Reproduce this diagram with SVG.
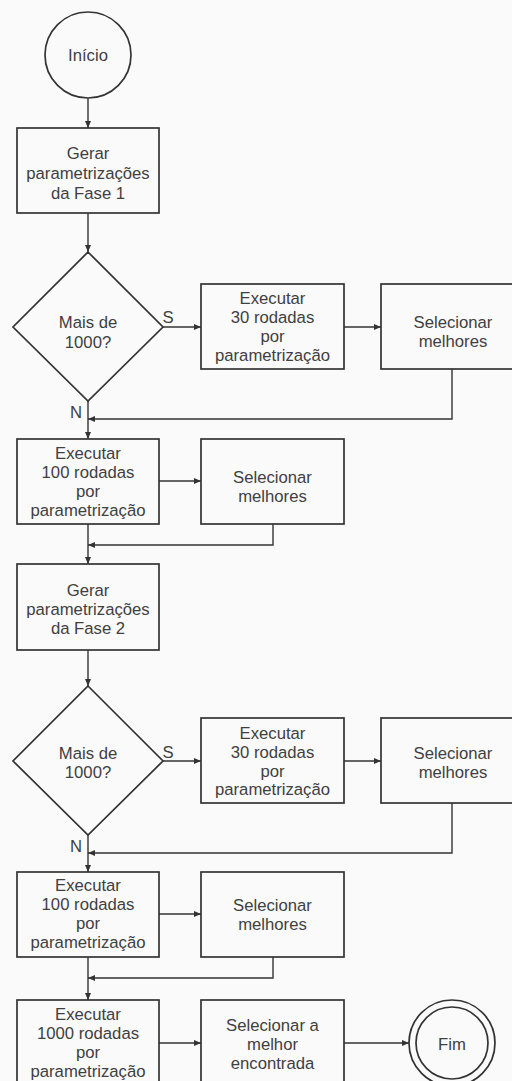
<svg xmlns="http://www.w3.org/2000/svg" width="512" height="1081" viewBox="0 0 512 1081">
  <defs>
    <marker id="arrow" markerUnits="userSpaceOnUse" markerWidth="7" markerHeight="6" refX="7" refY="3" orient="auto">
      <path d="M0,0 L7,3 L0,6 z" fill="#333"/>
    </marker>
    <style>
      .shape { fill: #fafafa; stroke: #333; stroke-width: 1.7; }
      .edge { fill: none; stroke: #333; stroke-width: 1.4; marker-end: url(#arrow); }
      text { font-family: "Liberation Sans", Arial, sans-serif; font-size: 16.7px; fill: #404040; text-anchor: middle; }
    </style>
  </defs>
  <rect x="0" y="0" width="512" height="1081" fill="#fafafa"/>

  <!-- connectors -->
  <g id="connectors">
    <path class="edge" d="M88,98 V128"/>
    <path class="edge" d="M88,213 V252"/>
    <path class="edge" d="M163,327 H201"/>
    <path class="edge" d="M344,327 H381"/>
    <path class="edge" d="M452,369 V419 H88"/>
    <path class="edge" d="M88,401 V439"/>
    <path class="edge" d="M159,481 H201"/>
    <path class="edge" d="M273,524 V545 H88"/>
    <path class="edge" d="M88,524 V564"/>
    <path class="edge" d="M88,650 V686"/>
    <path class="edge" d="M163,761 H201"/>
    <path class="edge" d="M344,761 H381"/>
    <path class="edge" d="M452,803 V853 H88"/>
    <path class="edge" d="M88,835 V872"/>
    <path class="edge" d="M159,914 H201"/>
    <path class="edge" d="M273,957 V978 H88"/>
    <path class="edge" d="M88,957 V1000"/>
    <path class="edge" d="M159,1043 H201"/>
    <path class="edge" d="M344,1043 H409"/>
    <text x="168" y="323">S</text>
    <text x="76" y="418">N</text>
    <text x="168" y="758">S</text>
    <text x="76" y="852">N</text>
  </g>

  <!-- start -->
  <g id="inicio">
    <circle class="shape" cx="88" cy="55" r="43"/>
    <text x="88" y="61">Início</text>
  </g>

  <!-- phase 1 -->
  <g id="gerar-fase1">
    <rect class="shape" x="17" y="128" width="142" height="85"/>
    <text x="88" y="159">Gerar</text>
    <text x="88" y="179">parametrizações</text>
    <text x="88" y="199">da Fase 1</text>
  </g>
  <g id="decisao1">
    <polygon class="shape" points="88,252 163,327 88,401 13,327"/>
    <text x="88" y="328">Mais de</text>
    <text x="88" y="348">1000?</text>
  </g>
  <g id="executar30-1">
    <rect class="shape" x="201" y="284" width="143" height="85"/>
    <text x="272.5" y="304">Executar</text>
    <text x="272.5" y="323">30 rodadas</text>
    <text x="272.5" y="342">por</text>
    <text x="272.5" y="361">parametrização</text>
  </g>
  <g id="selecionar-1">
    <rect class="shape" x="381" y="284" width="143" height="85"/>
    <text x="453" y="328">Selecionar</text>
    <text x="453" y="347">melhores</text>
  </g>
  <g id="executar100-1">
    <rect class="shape" x="17" y="439" width="142" height="85"/>
    <text x="88" y="459">Executar</text>
    <text x="88" y="478">100 rodadas</text>
    <text x="88" y="497">por</text>
    <text x="88" y="516">parametrização</text>
  </g>
  <g id="selecionar-2">
    <rect class="shape" x="201" y="439" width="143" height="85"/>
    <text x="272.5" y="483">Selecionar</text>
    <text x="272.5" y="502">melhores</text>
  </g>

  <!-- phase 2 -->
  <g id="gerar-fase2">
    <rect class="shape" x="17" y="564" width="142" height="86"/>
    <text x="88" y="596">Gerar</text>
    <text x="88" y="615">parametrizações</text>
    <text x="88" y="634">da Fase 2</text>
  </g>
  <g id="decisao2">
    <polygon class="shape" points="88,686 163,761 88,835 13,761"/>
    <text x="88" y="759">Mais de</text>
    <text x="88" y="778">1000?</text>
  </g>
  <g id="executar30-2">
    <rect class="shape" x="201" y="718" width="143" height="85"/>
    <text x="272.5" y="739">Executar</text>
    <text x="272.5" y="758">30 rodadas</text>
    <text x="272.5" y="777">por</text>
    <text x="272.5" y="795">parametrização</text>
  </g>
  <g id="selecionar-3">
    <rect class="shape" x="381" y="718" width="143" height="85"/>
    <text x="453" y="759">Selecionar</text>
    <text x="453" y="778">melhores</text>
  </g>
  <g id="executar100-2">
    <rect class="shape" x="17" y="872" width="142" height="85"/>
    <text x="88" y="891">Executar</text>
    <text x="88" y="910">100 rodadas</text>
    <text x="88" y="929">por</text>
    <text x="88" y="948">parametrização</text>
  </g>
  <g id="selecionar-4">
    <rect class="shape" x="201" y="872" width="143" height="85"/>
    <text x="272.5" y="911">Selecionar</text>
    <text x="272.5" y="930">melhores</text>
  </g>

  <!-- final runs -->
  <g id="executar1000">
    <rect class="shape" x="17" y="1000" width="142" height="90"/>
    <text x="88" y="1020">Executar</text>
    <text x="88" y="1039">1000 rodadas</text>
    <text x="88" y="1058">por</text>
    <text x="88" y="1077">parametrização</text>
  </g>
  <g id="selecionar-melhor">
    <rect class="shape" x="201" y="1000" width="143" height="90"/>
    <text x="272.5" y="1031">Selecionar a</text>
    <text x="272.5" y="1050">melhor</text>
    <text x="272.5" y="1069">encontrada</text>
  </g>
  <g id="fim">
    <circle class="shape" cx="452" cy="1043" r="43"/>
    <circle class="shape" cx="452" cy="1043" r="36"/>
    <text x="452" y="1050">Fim</text>
  </g>
</svg>
